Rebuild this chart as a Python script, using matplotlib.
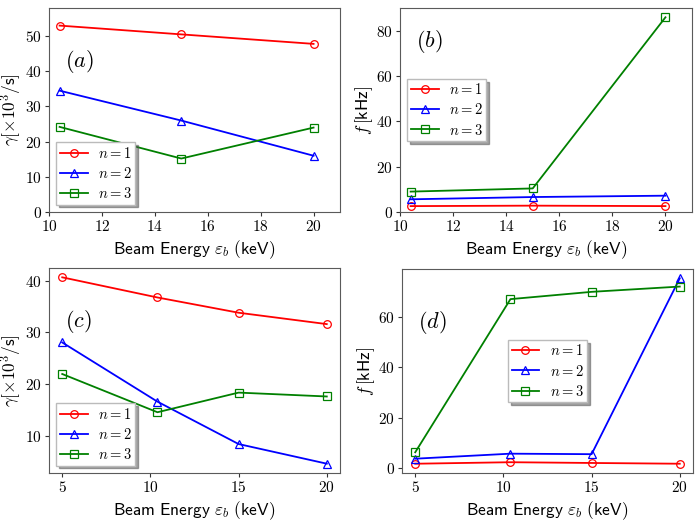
import numpy as np
import matplotlib
matplotlib.use("Agg")
import matplotlib.pyplot as plt
from matplotlib.ticker import FuncFormatter

# =========================
# DATA
# =========================

# panels (a), (b): beam energy (keV)
energy_ab = [10.4, 15, 20]
gamma_a_n1 = [53.0, 50.5, 47.8]
gamma_a_n2 = [34.5, 26.0, 16.0]
gamma_a_n3 = [24.2, 15.2, 24.0]

freq_b_n1 = [2.6, 2.8, 2.6]
freq_b_n2 = [5.6, 6.6, 7.2]
freq_b_n3 = [9.0, 10.4, 85.9]

# panels (c), (d)
energy_cd = [5, 10.4, 15, 20]
gamma_c_n1 = [40.65, 36.75, 33.8, 31.6]
gamma_c_n2 = [28.05, 16.6, 8.4, 4.6]
gamma_c_n3 = [21.95, 14.55, 18.35, 17.6]

freq_d_n1 = [1.7, 2.3, 2.0, 1.7]
freq_d_n2 = [3.7, 5.7, 5.5, 75.5]
freq_d_n3 = [6.25, 67.2, 70.1, 72.2]

xticks_ab = [10, 12, 14, 16, 18, 20]
xticks_cd = [5, 10, 15, 20]

labels = [r"$n = 1$", r"$n = 2$", r"$n = 3$"]
colors = ["#ff0000", "#0000ff", "#008000"]
markers = ["o", "^", "s"]

# =========================
# STYLE
# =========================

plt.rcParams["mathtext.fontset"] = "cm"
plt.rcParams["axes.unicode_minus"] = False

XLABEL = r"$\mathsf{Beam\ Energy}\ \varepsilon_b\ \mathsf{(keV)}$"
YLABEL_G = r"$\gamma[\times 10^3/\mathsf{s}]$"
YLABEL_F = r"$f\,[\mathsf{kHz}]$"

tick_fmt = FuncFormatter(lambda v, pos: f"${v:g}$")


def draw_panel(ax, x, series, ylabel, tag, tag_y, legend_loc, xticks):
    for ys, lab, c, m in zip(series, labels, colors, markers):
        ax.plot(x, ys, color=c, lw=1.3, marker=m, ms=5.5, mfc="none",
                mec=c, mew=0.9, label=lab)
    ax.set_xticks(xticks)
    ax.set_xlabel(XLABEL, fontsize=12.5, labelpad=3)
    ax.set_ylabel(ylabel, fontsize=12.5)
    ax.yaxis.set_label_coords(-0.087, 0.5)
    ax.xaxis.set_major_formatter(tick_fmt)
    ax.yaxis.set_major_formatter(tick_fmt)
    ax.tick_params(labelsize=11, direction="out", length=3, color="#333", pad=2)
    for sp in ax.spines.values():
        sp.set_color("#5a5a5a")
    ax.text(0.055, tag_y, tag, transform=ax.transAxes, fontsize=16,
            va="baseline")
    leg = ax.legend(loc=legend_loc, fontsize=10.5, shadow=True, fancybox=False,
                    framealpha=1, handlelength=1.9, handletextpad=0.7,
                    borderpad=0.25, labelspacing=0.35)
    leg.get_frame().set_edgecolor("#bbbbbb")


fig = plt.figure(figsize=(7.0, 5.21), dpi=100)

ax_a = fig.add_axes([49 / 700, 1 - 212 / 521, 291 / 700, 204 / 521])
ax_b = fig.add_axes([400 / 700, 1 - 212 / 521, 292 / 700, 204 / 521])
ax_c = fig.add_axes([49 / 700, 1 - 473 / 521, 291 / 700, 205 / 521])
ax_d = fig.add_axes([402 / 700, 1 - 473 / 521, 291 / 700, 204 / 521])

draw_panel(ax_a, energy_ab, [gamma_a_n1, gamma_a_n2, gamma_a_n3],
           YLABEL_G, r"$(a)$", 0.71, "lower left", xticks_ab)
ax_a.set_xlim(10, 21)
ax_a.set_ylim(0, 58)

draw_panel(ax_b, energy_ab, [freq_b_n1, freq_b_n2, freq_b_n3],
           YLABEL_F, r"$(b)$", 0.81, "center left", xticks_ab)
ax_b.set_xlim(10, 21)
ax_b.set_ylim(0, 90)

draw_panel(ax_c, energy_cd, [gamma_c_n1, gamma_c_n2, gamma_c_n3],
           YLABEL_G, r"$(c)$", 0.71, "lower left", xticks_cd)

draw_panel(ax_d, energy_cd, [freq_d_n1, freq_d_n2, freq_d_n3],
           YLABEL_F, r"$(d)$", 0.71, "center", xticks_cd)

fig.savefig("out.png", dpi=100)
